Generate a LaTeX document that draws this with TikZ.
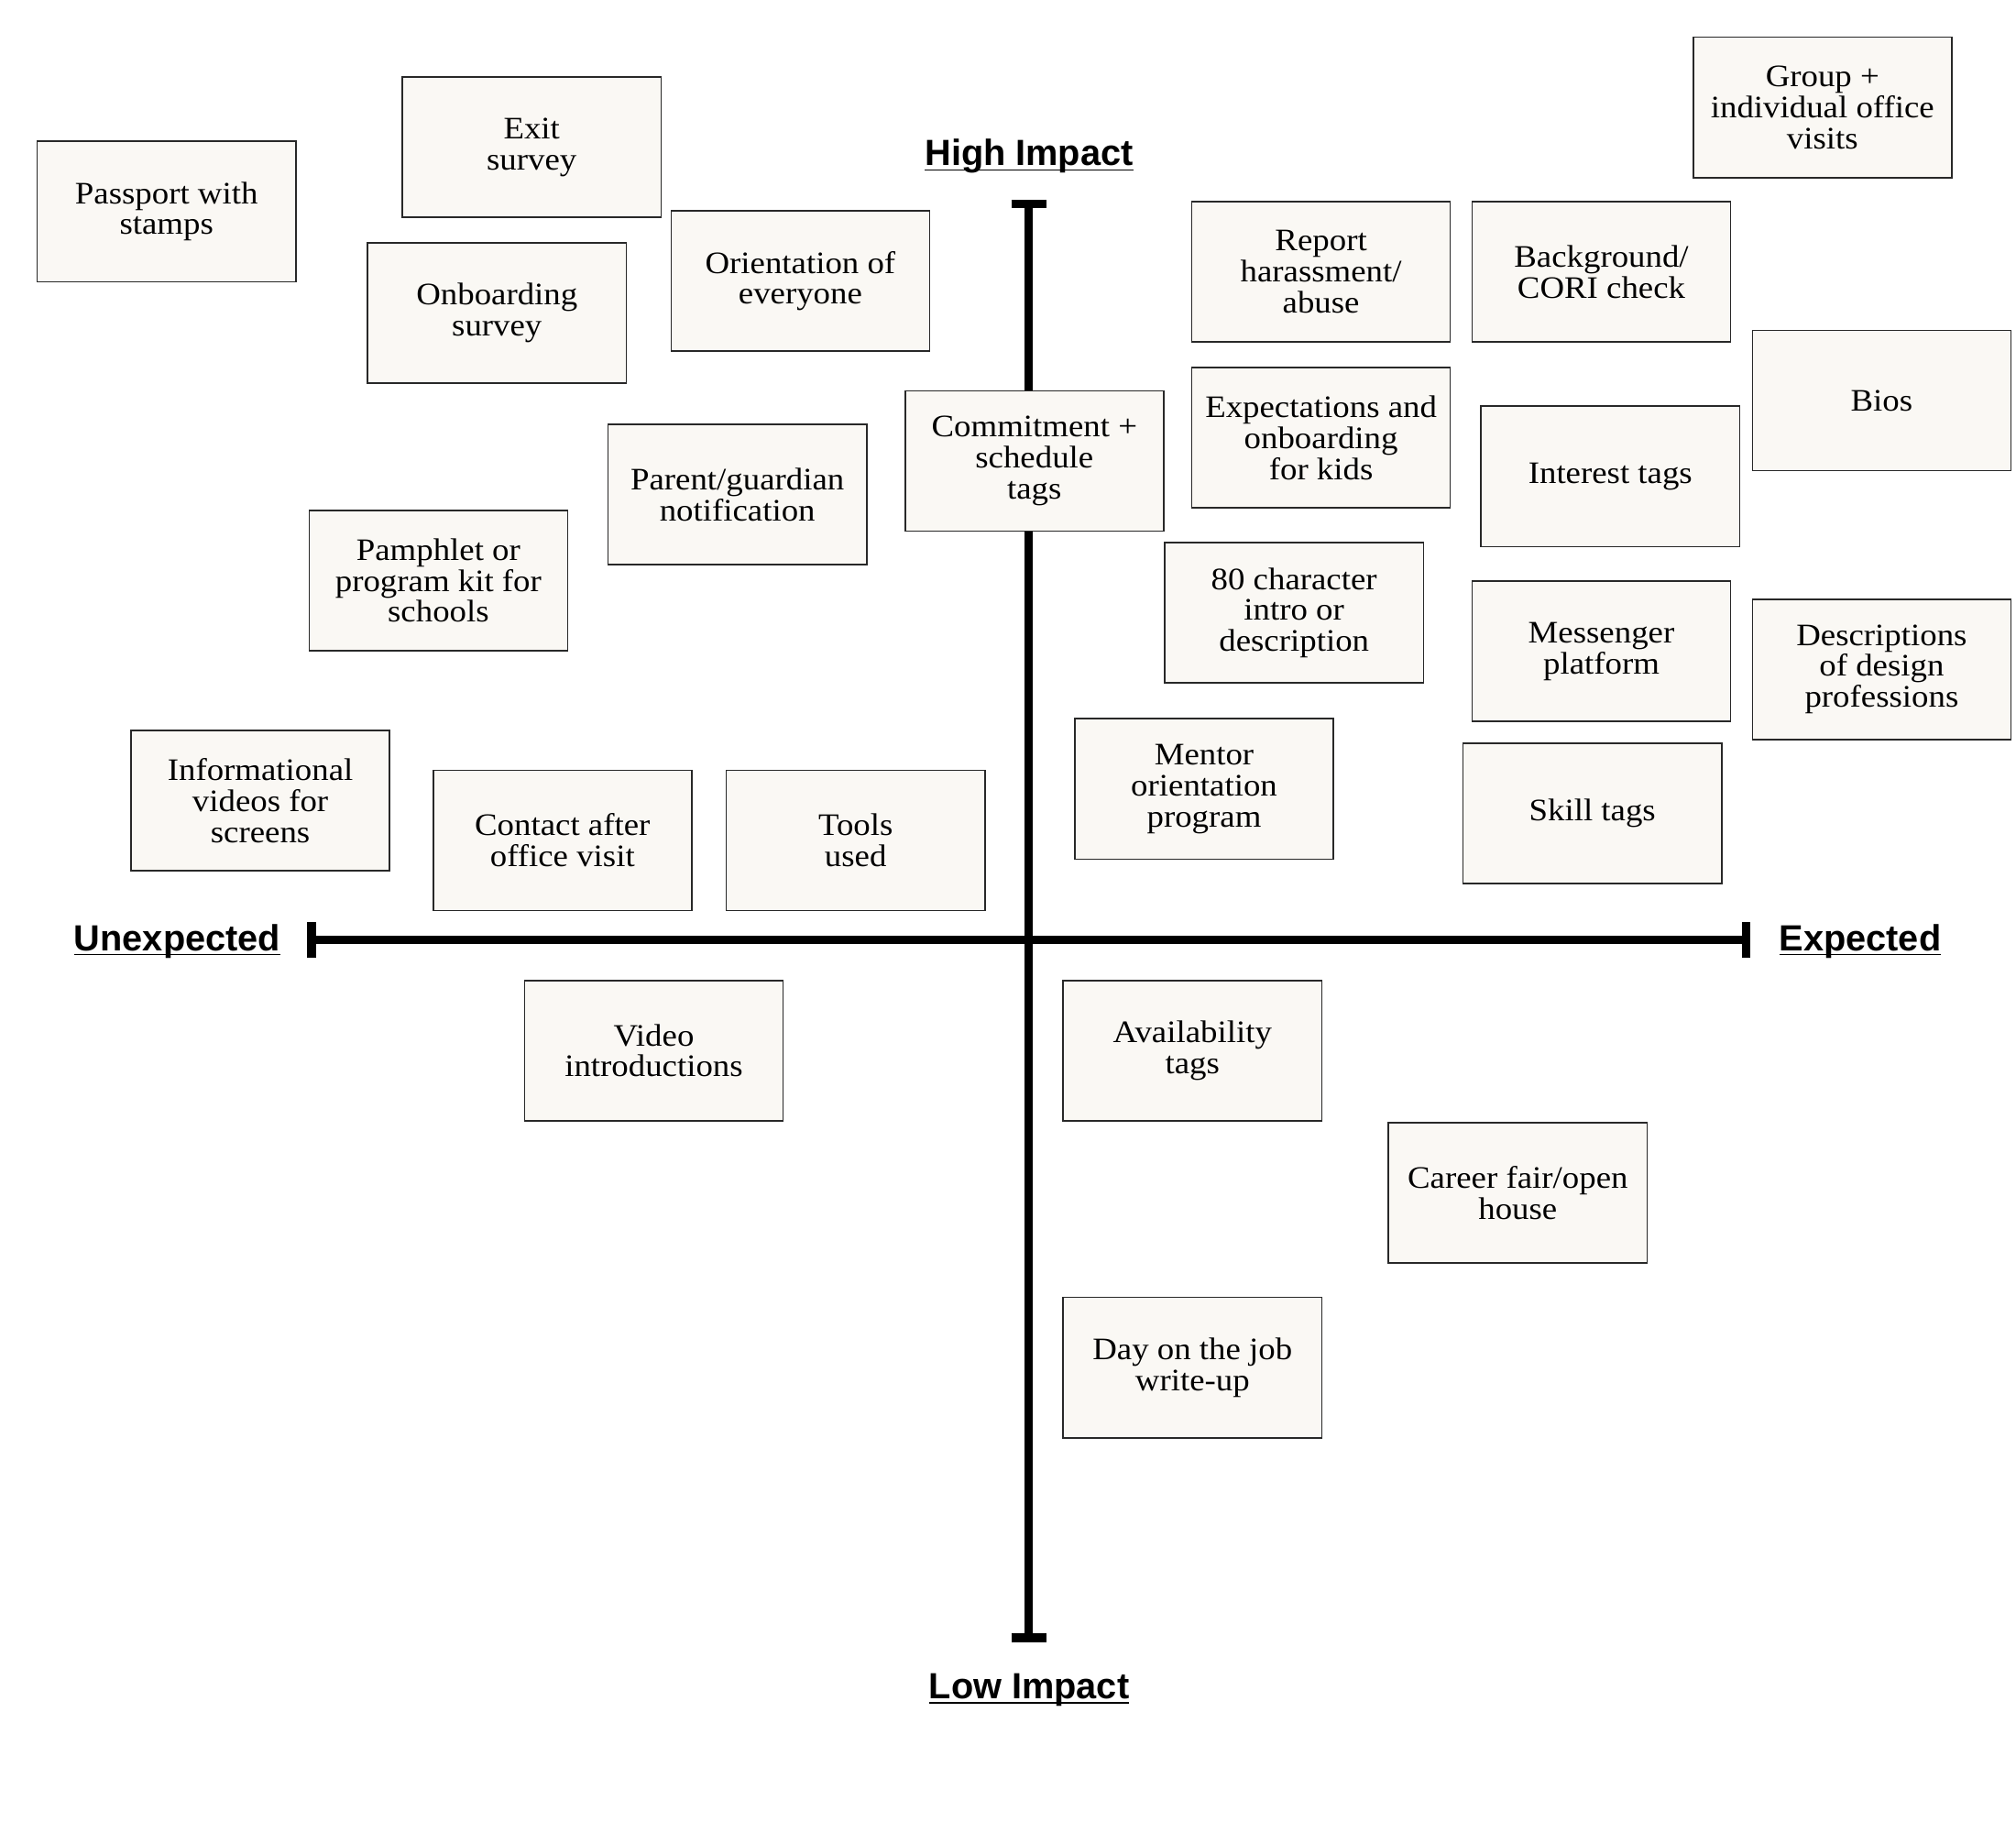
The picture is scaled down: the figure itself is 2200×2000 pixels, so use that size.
\documentclass[tikz,border=0pt]{standalone}
\usepackage{fontspec}
\setmainfont{Liberation Serif}[FakeStretch=1.08]
\newfontfamily\headfont{Liberation Sans}
\definecolor{cardfill}{RGB}{250,248,244}
\definecolor{cardline}{RGB}{40,40,40}
\newcommand\ulabel[1]{\sbox0{#1}\rlap{\rule[-1.5pt]{\wd0}{0.45pt}}\usebox0}
\begin{document}
\begin{tikzpicture}[x=0.01cm,y=-0.01cm,
  card/.style={draw=cardline, line width=0.45pt, fill=cardfill,
    minimum width=2.82cm, minimum height=1.53cm, align=center, inner sep=0pt,
    font=\fontsize{9.7}{9.6}\selectfont},
  axisline/.style={line width=2.6pt, line cap=butt},
  heading/.style={font=\headfont\bfseries\fontsize{11.3}{13}\selectfont,
    anchor=base, inner sep=0pt}]
\useasboundingbox (0,0) rectangle (2200,2000);

% axes
\coordinate (top) at (1122.5,222.5);
\coordinate (bot) at (1122.5,1787);
\coordinate (lft) at (340,1025.5);
\coordinate (rgt) at (1905.6,1025.5);
\draw[axisline] (top) -- (bot);
\draw[axisline] (lft) -- (rgt);
\draw[axisline] ([xshift=-0.19cm]top) -- ([xshift=0.19cm]top);
\draw[axisline] ([xshift=-0.19cm]bot) -- ([xshift=0.19cm]bot);
\draw[axisline] ([yshift=-0.195cm]lft) -- ([yshift=0.195cm]lft);
\draw[axisline] ([yshift=-0.195cm]rgt) -- ([yshift=0.195cm]rgt);

% axis labels
\node[heading] (high) at (1123,181) {\ulabel{High Impact}};
\node[heading] (low) at (1123,1853.6) {\ulabel{Low Impact}};
\node[heading] (unexp) at (193.5,1037) {\ulabel{Unexpected}};
\node[heading] (exp) at (2030,1037) {\ulabel{Expected}};

% cards
\node[card] (passport) at (181.7,230.8) {Passport with\\stamps};
\node[card] (exit) at (580.2,160.6) {Exit\\survey};
\node[card] (onboard) at (542.3,341.6) {Onboarding\\survey};
\node[card] (orient) at (873.4,306.6) {Orientation of\\everyone};
\node[card] (parent) at (804.7,539.5) {Parent/guardian\\notification};
\node[card] (pamphlet) at (478.4,633.5) {Pamphlet or\\program kit for\\schools};
\node[card] (commit) at (1128.8,503.0) {Commitment +\\schedule\\tags};
\node[card] (report) at (1441.6,296.7) {Report\\harassment/\\abuse};
\node[card] (backgr) at (1747.5,296.7) {Background/\\CORI check};
\node[card] (group) at (1988.8,117.2) {Group +\\individual office\\visits};
\node[card] (expect) at (1441.6,477.7) {Expectations and\\onboarding\\for kids};
\node[card] (interest) at (1757.3,519.8) {Interest tags};
\node[card] (bios) at (2053.4,437.1) {Bios};
\node[card] (eighty) at (1412.2,668.6) {80 character\\intro or\\description};
\node[card] (messenger) at (1747.5,710.7) {Messenger\\platform};
\node[card] (descr) at (2053.4,730.3) {Descriptions\\of design\\professions};
\node[card] (mentor) at (1314.0,860.8) {Mentor\\orientation\\program};
\node[card] (skill) at (1737.7,887.4) {Skill tags};
\node[card] (infovid) at (284.1,873.4) {Informational\\videos for\\screens};
\node[card] (contact) at (613.8,916.9) {Contact after\\office visit};
\node[card] (tools) at (933.7,916.9) {Tools\\used};
\node[card] (video) at (713.5,1146.3) {Video\\introductions};
\node[card] (avail) at (1301.3,1146.3) {Availability\\tags};
\node[card] (career) at (1656.3,1301.3) {Career fair/open\\house};
\node[card] (dayjob) at (1301.3,1492.2) {Day on the job\\write-up};
\end{tikzpicture}
\end{document}
